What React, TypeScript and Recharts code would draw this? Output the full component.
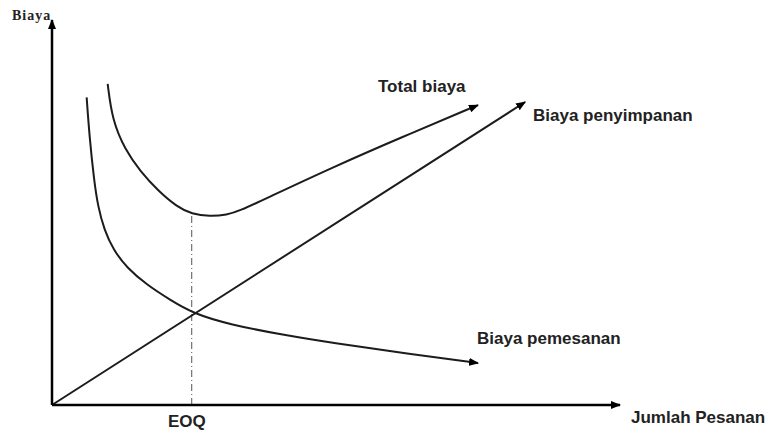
import React from "react";
import { LineChart, Line, XAxis, YAxis, ReferenceLine } from "recharts";

// values (quantity q, cost c on a 0-100 scale)
const holdingCost = [
	{ q: 0, c: 0 },
	{ q: 83.3, c: 78.7 },
];

const orderingCost = [
	{ q: 6.1, c: 79.9 },
	{ q: 6.6, c: 69.7 },
	{ q: 7.4, c: 58.4 },
	{ q: 8.1, c: 51.5 },
	{ q: 9.2, c: 45.5 },
	{ q: 10.8, c: 40.3 },
	{ q: 13.2, c: 35.6 },
	{ q: 16.7, c: 31.2 },
	{ q: 20.8, c: 27.3 },
	{ q: 24.8, c: 23.8 },
	{ q: 31.3, c: 20.9 },
	{ q: 40.7, c: 18.2 },
	{ q: 49.5, c: 16.1 },
	{ q: 61.3, c: 13.6 },
	{ q: 75.0, c: 10.9 },
];

const totalCost = [
	{ q: 9.8, c: 83.4 },
	{ q: 10.6, c: 74.0 },
	{ q: 12.9, c: 66.2 },
	{ q: 15.5, c: 60.8 },
	{ q: 18.7, c: 55.6 },
	{ q: 22.0, c: 51.5 },
	{ q: 24.6, c: 49.6 },
	{ q: 27.8, c: 49.0 },
	{ q: 30.8, c: 49.4 },
	{ q: 33.0, c: 50.4 },
	{ q: 37.9, c: 53.8 },
	{ q: 49.5, c: 61.8 },
	{ q: 61.3, c: 69.4 },
	{ q: 75.0, c: 77.9 },
];

const EOQ = 24.6;
const MIN_TOTAL = 49.4;

const labels = {
	yAxis: "Biaya",
	xAxis: "Jumlah Pesanan",
	eoq: "EOQ",
	total: "Total biaya",
	holding: "Biaya penyimpanan",
	ordering: "Biaya pemesanan",
};

const INK = "#1c1c1c";
const SANS = "'Liberation Sans', Arial, sans-serif";

export default function App() {
	const curve = {
		type: "basis" as const,
		dataKey: "c",
		dot: false,
		stroke: INK,
		strokeWidth: 2,
		markerEnd: "url(#arrow)",
		isAnimationActive: false,
	};

	return (
		<div style={{ position: "fixed", top: 0, left: 0, width: 769, height: 432, background: "#fff" }}>
			<svg width={0} height={0} style={{ position: "absolute" }}>
				<defs>
					<marker
						id="arrow"
						viewBox="0 0 10 8"
						refX={9}
						refY={4}
						markerWidth={10}
						markerHeight={8}
						markerUnits="userSpaceOnUse"
						orient="auto-start-reverse"
					>
						<path d="M0,0 L10,4 L0,8 z" fill="#000" />
					</marker>
				</defs>
			</svg>

			<LineChart width={769} height={432} margin={{ top: 20, right: 149, bottom: 0, left: 0 }}>
				<XAxis
					type="number"
					dataKey="q"
					domain={[0, 100]}
					height={27}
					tick={false}
					tickLine={false}
					axisLine={{ stroke: "#000", strokeWidth: 2.5, markerEnd: "url(#arrow)" }}
				/>
				<YAxis
					type="number"
					domain={[0, 100]}
					width={52}
					tick={false}
					tickLine={false}
					axisLine={{ stroke: "#000", strokeWidth: 2.5, markerStart: "url(#arrow)" }}
				/>
				<ReferenceLine
					segment={[
						{ x: EOQ, y: 0 },
						{ x: EOQ, y: MIN_TOTAL },
					]}
					stroke="#555"
					strokeWidth={1}
					strokeDasharray="7 3 1 3"
				/>
				<Line {...curve} data={holdingCost} type="linear" />
				<Line {...curve} data={orderingCost} />
				<Line {...curve} data={totalCost} />
			</LineChart>

			{/* text labels */}
			<svg width={769} height={432} style={{ position: "absolute", top: 0, left: 0, pointerEvents: "none" }}>
				<text x={12} y={20} fontFamily="'Liberation Serif', serif" fontWeight="bold" fontSize={14} letterSpacing={1} fill="#222">
					{labels.yAxis}
				</text>
				<g fontFamily={SANS} fontWeight="bold" fontSize={17} fill="#222">
					<text x={378} y={92}>{labels.total}</text>
					<text x={533} y={121}>{labels.holding}</text>
					<text x={477} y={344}>{labels.ordering}</text>
					<text x={631} y={423}>{labels.xAxis}</text>
					<text x={168} y={427} fontSize={17}>{labels.eoq}</text>
				</g>
			</svg>
		</div>
	);
}
